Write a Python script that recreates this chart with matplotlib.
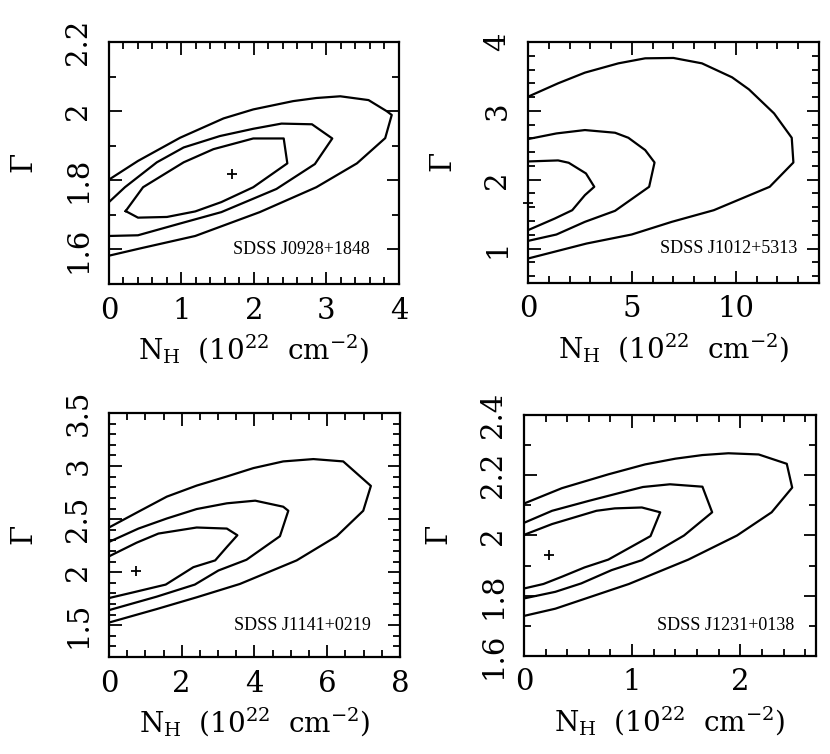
import matplotlib
matplotlib.use("Agg")
import matplotlib.pyplot as plt
from matplotlib.ticker import MultipleLocator, FormatStrFormatter

plt.rcParams['font.family'] = ['DejaVu Serif']
plt.rcParams['mathtext.fontset'] = 'dejavuserif'

# SDSS J0928+1848 : Konturen (NH in 1e22 cm^-2, Gamma)
j0928_outer_nh = [0, 0.40, 0.98, 1.58, 1.99, 2.54, 2.86, 3.19, 3.58, 3.83, 3.90, 3.81, 3.42, 2.86, 2.08, 1.19, 0.43, 0]
j0928_outer_g = [1.802, 1.856, 1.923, 1.979, 2.005, 2.029, 2.038, 2.043, 2.032, 2.0, 1.989, 1.922, 1.849, 1.78, 1.708, 1.639, 1.603, 1.582]
j0928_mid_nh = [0, 0.22, 0.66, 1.03, 1.53, 1.99, 2.38, 2.80, 3.08, 2.84, 2.31, 1.55, 0.98, 0.40, 0]
j0928_mid_g = [1.737, 1.78, 1.852, 1.895, 1.928, 1.949, 1.964, 1.962, 1.921, 1.847, 1.775, 1.708, 1.675, 1.641, 1.639]
j0928_in_nh = [0.23, 0.47, 1.03, 1.44, 1.99, 2.41, 2.46, 1.99, 1.55, 1.19, 0.80, 0.40, 0.23]
j0928_in_g = [1.711, 1.78, 1.852, 1.89, 1.921, 1.921, 1.849, 1.78, 1.737, 1.71, 1.694, 1.692, 1.711]
j0928_best = (1.69, 1.818)

# SDSS J1012+5313
j1012_outer_nh = [0, 1.45, 2.74, 4.35, 5.64, 7.0, 8.37, 9.82, 10.63, 11.84, 12.69, 12.77, 11.63, 8.94, 6.92, 4.99, 2.82, 0]
j1012_outer_g = [3.205, 3.40, 3.555, 3.69, 3.763, 3.768, 3.69, 3.487, 3.312, 2.963, 2.609, 2.25, 1.897, 1.557, 1.388, 1.204, 1.073, 0.855]
j1012_mid_nh = [0, 1.37, 2.74, 4.19, 4.83, 5.64, 6.09, 5.83, 4.19, 2.74, 1.37, 0]
j1012_mid_g = [2.59, 2.672, 2.721, 2.682, 2.609, 2.43, 2.25, 1.897, 1.548, 1.388, 1.204, 1.111]
j1012_in_nh = [0, 1.45, 1.96, 2.79, 3.19, 2.74, 2.13, 1.29, 0]
j1012_in_g = [2.265, 2.28, 2.246, 2.091, 1.897, 1.776, 1.557, 1.436, 1.267]
j1012_best = (0.0, 1.66)

# SDSS J1141+0219
j1141_outer_nh = [0, 0.81, 1.59, 2.41, 3.24, 3.97, 4.79, 5.62, 6.44, 7.20, 6.99, 6.26, 5.16, 3.60, 2.41, 1.31, 0]
j1141_outer_g = [2.421, 2.57, 2.712, 2.816, 2.902, 2.981, 3.044, 3.066, 3.044, 2.813, 2.579, 2.339, 2.111, 1.889, 1.763, 1.652, 1.525]
j1141_mid_nh = [0, 0.81, 1.59, 2.41, 3.24, 4.02, 4.79, 4.93, 4.70, 3.78, 3.01, 2.36, 1.31, 0]
j1141_mid_g = [2.285, 2.411, 2.506, 2.595, 2.649, 2.674, 2.617, 2.579, 2.339, 2.117, 2.016, 1.883, 1.769, 1.642]
j1141_in_nh = [0, 0.76, 1.36, 2.41, 3.24, 3.53, 3.24, 2.92, 2.32, 1.56, 0.67, 0]
j1141_in_g = [2.149, 2.278, 2.364, 2.421, 2.411, 2.348, 2.237, 2.111, 2.047, 1.883, 1.81, 1.756]
j1141_best = (0.74, 2.013)

# SDSS J1231+0138
j1231_outer_nh = [0, 0.35, 0.78, 1.12, 1.40, 1.65, 1.89, 2.17, 2.43, 2.48, 2.29, 1.97, 1.52, 0.97, 0.29, 0]
j1231_outer_g = [2.106, 2.157, 2.203, 2.236, 2.255, 2.267, 2.273, 2.269, 2.238, 2.159, 2.077, 2.0, 1.92, 1.839, 1.757, 1.733]
j1231_mid_nh = [0, 0.26, 0.60, 0.87, 1.10, 1.35, 1.65, 1.74, 1.48, 1.09, 0.81, 0.53, 0.29, 0]
j1231_mid_g = [2.042, 2.082, 2.115, 2.14, 2.161, 2.17, 2.162, 2.077, 2.0, 1.918, 1.885, 1.841, 1.813, 1.791]
j1231_in_nh = [0, 0.26, 0.67, 0.84, 1.09, 1.26, 1.17, 0.78, 0.56, 0.35, 0.18, 0]
j1231_in_g = [2.002, 2.038, 2.082, 2.09, 2.093, 2.077, 1.998, 1.92, 1.894, 1.863, 1.839, 1.824]
j1231_best = (0.23, 1.934)

namen = ['SDSS J0928+1848', 'SDSS J1012+5313', 'SDSS J1141+0219', 'SDSS J1231+0138']
name_y = [1.6, 1.0, 1.5, 1.7]
xlims = [(0, 4), (0, 14), (0, 8), (0, 2.7)]
ylims = [(1.5, 2.2), (0.5, 4), (1.2, 3.5), (1.6, 2.4)]
x_major = [1, 5, 2, 1]
x_minor = [0.2, 1, 0.5, 0.2]
y_major = [0.2, 1, 0.5, 0.2]
y_minor = [0.1, 0.2, 0.1, 0.1]

konturen = [
    [(j0928_outer_nh, j0928_outer_g), (j0928_mid_nh, j0928_mid_g), (j0928_in_nh, j0928_in_g)],
    [(j1012_outer_nh, j1012_outer_g), (j1012_mid_nh, j1012_mid_g), (j1012_in_nh, j1012_in_g)],
    [(j1141_outer_nh, j1141_outer_g), (j1141_mid_nh, j1141_mid_g), (j1141_in_nh, j1141_in_g)],
    [(j1231_outer_nh, j1231_outer_g), (j1231_mid_nh, j1231_mid_g), (j1231_in_nh, j1231_in_g)],
]
bestfits = [j0928_best, j1012_best, j1141_best, j1231_best]

positionen = [
    [0.1313, 0.6233, 0.3494, 0.3210],
    [0.6361, 0.6247, 0.3506, 0.3196],
    [0.1313, 0.1286, 0.3506, 0.3236],
    [0.6313, 0.1300, 0.3518, 0.3196],
]
text_x = [0.90, 0.925, 0.90, 0.925]

fig = plt.figure(figsize=(8.3, 7.54), dpi=100)

for i in range(4):
    ax = fig.add_axes(positionen[i])
    for nh, g in konturen[i]:
        ax.plot(nh, g, color='black', lw=1.6)
    ax.plot(bestfits[i][0], bestfits[i][1], marker='+', color='black',
            ms=7, mew=1.3, clip_on=False)

    ax.set_xlim(xlims[i])
    ax.set_ylim(ylims[i])
    ax.xaxis.set_major_locator(MultipleLocator(x_major[i]))
    ax.xaxis.set_minor_locator(MultipleLocator(x_minor[i]))
    ax.yaxis.set_major_locator(MultipleLocator(y_major[i]))
    ax.yaxis.set_minor_locator(MultipleLocator(y_minor[i]))
    ax.xaxis.set_major_formatter(FormatStrFormatter('%g'))
    ax.yaxis.set_major_formatter(FormatStrFormatter('%g'))
    ax.tick_params(which='both', direction='in', top=True, right=True, width=1.3)
    ax.tick_params(which='major', length=9, labelsize=21)
    ax.tick_params(which='minor', length=5)
    ax.tick_params(axis='x', pad=9)
    ax.tick_params(axis='y', pad=12)
    for lab in ax.get_yticklabels():
        lab.set_rotation(90)
        lab.set_va('center')
    for s in ax.spines.values():
        s.set_linewidth(1.6)

    ax.set_xlabel(r'N$_{\rm H}$  (10$^{22}$  cm$^{-2}$)', fontsize=20, labelpad=6)
    ax.set_ylabel(r'$\Gamma$', fontsize=21, labelpad=18)
    ax.text(text_x[i], name_y[i], namen[i], transform=ax.get_yaxis_transform(),
            ha='right', va='center', fontsize=13, family='Liberation Serif')

fig.savefig('out.png', dpi=100)
